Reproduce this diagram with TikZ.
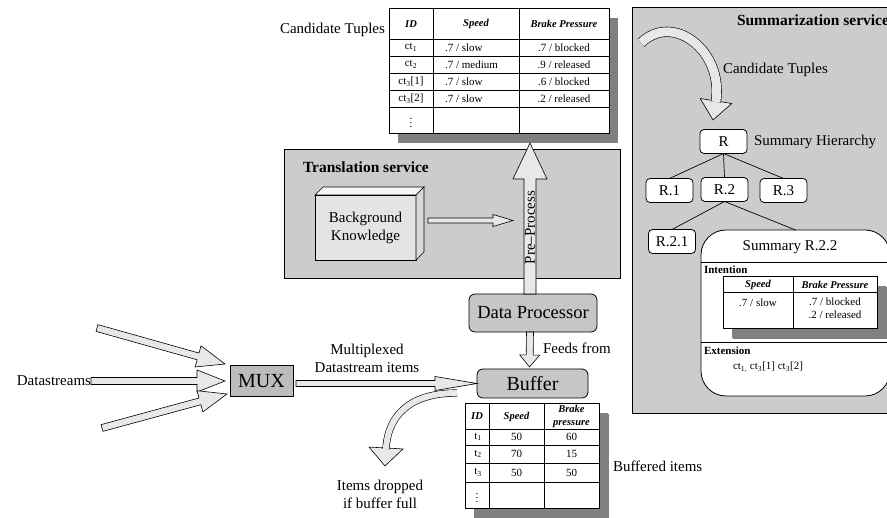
\documentclass[tikz,border=0pt]{standalone}
\usepackage{fontspec}
\setmainfont{Liberation Serif}
\usetikzlibrary{calc,shadows}

\definecolor{svcgray}{RGB}{204,204,204}
\definecolor{boxgray}{RGB}{198,198,198}
\definecolor{muxgray}{RGB}{188,188,188}
\definecolor{arrowfill}{RGB}{232,232,232}
\definecolor{shadowgray}{RGB}{128,128,128}
\definecolor{kbfront}{RGB}{228,228,228}
\definecolor{kbtop}{RGB}{246,246,246}
\definecolor{kbside}{RGB}{216,216,216}

% hollow block arrow: from, to, shaft half width, head half width, head length
\newcommand\fatarrow[5]{%
  \path #1 coordinate (fas) #2 coordinate (fat);
  \coordinate (fab) at ($(fat)!#5pt!(fas)$);
  \draw[fatarrow] ($(fas)!#3pt!90:(fat)$) -- ($(fab)!#3pt!90:(fat)$) -- ($(fab)!#4pt!90:(fat)$)
    -- (fat) -- ($(fab)!#4pt!-90:(fat)$) -- ($(fab)!#3pt!-90:(fat)$) -- ($(fas)!#3pt!-90:(fat)$) -- cycle;}

\begin{document}
\begin{tikzpicture}[x=1pt,y=-1pt,
  every node/.style={inner sep=0pt, outer sep=0pt},
  lbl/.style={font=\fontsize{15}{18}\selectfont, align=center},
  svcbox/.style={draw=black, line width=0.8pt, fill=svcgray},
  svctitle/.style={font=\fontsize{15.5}{18}\selectfont\bfseries, anchor=west},
  procbox/.style={draw=black, line width=0.8pt, fill=boxgray, rounded corners=6pt},
  muxbox/.style={draw=black, line width=0.8pt, fill=muxgray},
  treebox/.style={draw=black, line width=0.8pt, fill=white, rounded corners=4pt,
    minimum width=47pt, minimum height=24pt, font=\fontsize{15}{18}\selectfont},
  tablebox/.style={draw=black, line width=1pt, fill=white,
    drop shadow={fill=shadowgray, opacity=1, shadow xshift=9pt, shadow yshift=-9pt}},
  tgrid/.style={line width=0.7pt},
  thead/.style={font=\fontsize{10.5}{13}\selectfont\bfseries\itshape, align=center},
  tcell/.style={font=\fontsize{11}{13}\selectfont, align=center},
  fatarrow/.style={draw=black, line width=0.6pt, fill=arrowfill, line join=miter},
  fatcurve/.style={draw=black, line width=0.6pt, double=arrowfill, double distance=6pt, line cap=butt},
  treeline/.style={line width=0.7pt}]

  \useasboundingbox (0,0) rectangle (887,518);

  % services
  \node[svcbox, minimum width=336pt, minimum height=129pt] (trans) at (452,213.5) {};
  \node[svctitle] (transtitle) at (303,167) {Translation service};
  \node[svcbox, minimum width=263pt, minimum height=406pt] (sumsvc) at (763.5,210) {};
  \node[svctitle] (sumtitle) at (737,20) {Summarization service};

  % candidate tuples table
  \node[lbl] (ctlabel) at (332.5,30) {Candidate Tuples};
  \node[tablebox, minimum width=220pt, minimum height=125pt] (ctab) at (499,71.5) {};
  \foreach \y in {39,56,73,90,107}
    \draw[tgrid] (389,\y) -- (609,\y);
  \foreach \x in {433,519}
    \draw[tgrid] (\x,9) -- (\x,134);
  \node[thead] at (411,24) {ID};
  \node[thead] at (476,24) {Speed};
  \node[thead] at (564,24) {Brake Pressure};
  \foreach \y/\id/\sp/\bp in {47.5/{ct\textsubscript{1}}/{.7 / slow}/{.7 / blocked},
      64.5/{ct\textsubscript{2}}/{.7 / medium}/{.9 / released},
      81.5/{ct\textsubscript{3}[1]}/{.7 / slow}/{.6 / blocked},
      98.5/{ct\textsubscript{3}[2]}/{.7 / slow}/{.2 / released}}{
    \node[tcell] at (411,\y) {\id};
    \node[tcell, anchor=west] at (445,\y) {\sp};
    \node[tcell] at (564,\y) {\bp};
  }
  \node[tcell] at (411,120.5) {$\vdots$};

  % background knowledge
  \node[draw=black, line width=0.7pt, fill=kbfront, minimum width=101pt, minimum height=65pt,
    lbl] (bk) at (365.5,227.5) {Background\\Knowledge};
  \draw[line width=0.7pt, fill=kbtop] (bk.north west) -- ++(8,-8) -- ($(bk.north east)+(8,-8)$) -- (bk.north east) -- cycle;
  \draw[line width=0.7pt, fill=kbside] (bk.north east) -- ++(8,-8) -- ($(bk.south east)+(8,-8)$) -- (bk.south east) -- cycle;

  % processing chain
  \node[procbox, minimum width=128pt, minimum height=38pt, font=\fontsize{18.5}{22}\selectfont] (dp) at (533,313) {Data Processor};
  \node[procbox, minimum width=111pt, minimum height=29pt, font=\fontsize{20}{24}\selectfont] (buffer) at (532.5,383.5) {Buffer};
  \node[muxbox, minimum width=63pt, minimum height=31pt, font=\fontsize{20}{24}\selectfont] (mux) at (261.5,381) {MUX};

  \coordinate (prestart) at ($(dp.north)+(-3,0)$);
  \coordinate (pretip) at ($(dp.north |- ctab.south)+(-3,9)$);
  \fatarrow{(prestart)}{(pretip)}{6}{17}{36}
  \node[lbl, rotate=90] (prelabel) at ($(prestart)!0.44!(pretip)$) {Pre–Process};
  \fatarrow{($(bk.east)+(12,-7)$)}{($(bk.east)+(97,-7)$)}{2.5}{6}{20}
  \fatarrow{($(dp.south)+(-3,0)$)}{($(buffer.north)+(-3,-2)$)}{3.5}{10}{12}
  \node[lbl, anchor=west] (feeds) at (543,348) {Feeds from};

  % datastreams
  \node[lbl, anchor=east] (dslabel) at (91,381) {Datastreams};
  \coordinate (dstop) at (97,328);
  \coordinate (dsbot) at (102,428);
  \fatarrow{(dstop)}{($(mux.west)+(-5,-17)$)}{3.5}{11}{28}
  \fatarrow{(dslabel.east)}{($(mux.west)+(-5,0)$)}{3.5}{11}{28}
  \fatarrow{(dsbot)}{($(mux.west)+(-3,13)$)}{3.5}{11}{28}
  \fatarrow{($(mux.east |- buffer.west)+(3,0)$)}{(buffer.west)}{3}{7}{42}
  \node[lbl] (muxlabel) at (367,358) {Multiplexed\\Datastream items};

  % dropped items
  \coordinate (dropstart) at ($(buffer.west)+(-20,9.5)$);
  \coordinate (dropbase) at (386,448);
  \coordinate (droptip) at (385,466);
  \draw[fatarrow] ($(dropbase)!17pt!90:(droptip)$) -- (droptip) -- ($(dropbase)!17pt!-90:(droptip)$) -- cycle;
  \draw[fatcurve] (dropstart) .. controls (410,393) and (388,415) .. ($(dropbase)!1pt!(droptip)$);
  \node[lbl] (droplabel) at (380,494) {Items dropped\\if buffer full};

  % buffer table
  \node[tablebox, minimum width=134pt, minimum height=105pt,
    drop shadow={fill=shadowgray, opacity=1, shadow xshift=10pt, shadow yshift=-10pt}] (btab) at (532,456.5) {};
  \foreach \y in {429,445,463,482}
    \draw[tgrid] (465,\y) -- (599,\y);
  \foreach \x in {489,544}
    \draw[tgrid] (\x,404) -- (\x,509);
  \node[thead] at (477,416.5) {ID};
  \node[thead] at (516.5,416.5) {Speed};
  \node[thead] at (571.5,416.5) {Brake\\pressure};
  \foreach \y/\id/\sp/\bp in {437/t\textsubscript{1}/50/60, 454/t\textsubscript{2}/70/15, 472.5/t\textsubscript{3}/50/50}{
    \node[tcell] at (478,\y) {\id};
    \node[tcell] at (516.5,\y) {\sp};
    \node[tcell] at (571.5,\y) {\bp};
  }
  \node[tcell] at (477,495.5) {$\vdots$};
  \node[lbl, anchor=west] (buflabel) at (613,466) {Buffered items};

  % summarization
  \coordinate (ctstart) at (641,43);
  \coordinate (ctbase) at (716,101);
  \coordinate (cttip) at (713,120);
  \draw[fatarrow] ($(ctbase)!16pt!90:(cttip)$) -- (cttip) -- ($(ctbase)!16pt!-90:(cttip)$) -- cycle;
  \draw[fatcurve, double distance=9pt] (ctstart) .. controls (672,12) and (724,50) .. ($(ctbase)!1pt!(cttip)$);
  \node[lbl, anchor=west] (ctlabel2) at (723,70) {Candidate Tuples};

  \node[treebox] (r) at (723.5,141.5) {R};
  \node[lbl, anchor=west] (hierlabel) at (754,142) {Summary Hierarchy};
  \node[treebox] (r1) at (669.5,190.5) {R.1};
  \node[treebox] (r2) at (724.5,189.5) {R.2};
  \node[treebox] (r3) at (783.5,190.5) {R.3};
  \node[treebox] (r21) at (672,241.5) {R.2.1};
  \node[draw=black, line width=0.8pt, fill=white, rounded corners=25pt,
    minimum width=189pt, minimum height=166pt] (summ) at (795.5,313) {};
  \foreach \c in {r1,r2,r3}
    \draw[treeline] (r.south) -- (\c.north);
  \draw[treeline] (r2.south) -- (r21.north);
  \draw[treeline] (r2.south) -- (summ.north);

  \node[lbl] (summtitle) at (790,247) {Summary R.2.2};
  \draw[line width=1pt] (summ.west |- 0,263) -- (summ.east |- 0,263);
  \draw[line width=1pt] (summ.west |- 0,343) -- (summ.east |- 0,343);
  \node[font=\fontsize{11}{13}\selectfont\bfseries, anchor=west] (intent) at (704,270) {Intention};
  \node[font=\fontsize{11}{13}\selectfont\bfseries, anchor=west] (extent) at (704,351) {Extension};
  \node[tablebox, minimum width=154pt, minimum height=52pt,
    drop shadow={fill=shadowgray, opacity=1, shadow xshift=10pt, shadow yshift=-10pt}] (itab) at (800,303) {};
  \draw[tgrid] (723,292) -- (877,292);
  \draw[tgrid] (793,277) -- (793,329);
  \node[thead] at (758,284.5) {Speed};
  \node[thead] at (835,284.5) {Brake Pressure};
  \node[tcell] at (758,303) {.7 / slow};
  \node[tcell] at (835,308.5) {.7 / blocked\\.2 / released};
  \node[tcell, anchor=west] (extlist) at (733,367) {ct\textsubscript{1,} ct\textsubscript{3}[1] ct\textsubscript{3}[2]};
\end{tikzpicture}
\end{document}
